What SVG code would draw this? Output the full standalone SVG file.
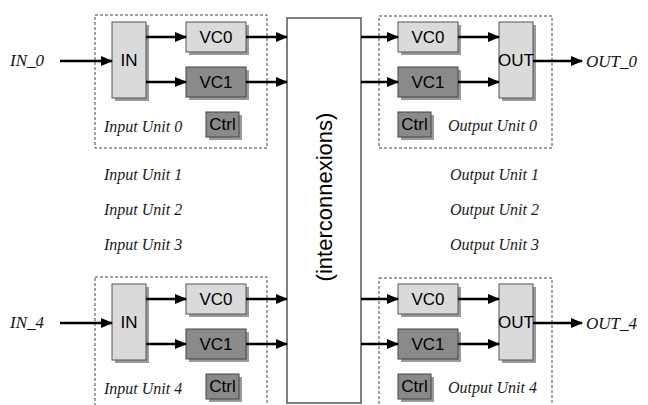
<svg xmlns="http://www.w3.org/2000/svg" width="648" height="405" viewBox="0 0 648 405">
<style>
.unit{fill:none;stroke:#444;stroke-width:1;stroke-dasharray:3,2}
.sh{fill:#9a9a9a}
.lt{fill:#dadada;stroke:#555;stroke-width:1}
.dk{fill:#8a8a8a;stroke:#444;stroke-width:1}
.bt{font-family:"Liberation Sans",Arial,sans-serif;font-size:17px;fill:#000;text-anchor:middle}
.lab{font-family:"Liberation Serif","Times New Roman",serif;font-style:italic;font-size:16px;fill:#1a1a1a}
.io{font-family:"Liberation Serif","Times New Roman",serif;font-style:italic;font-size:17px;fill:#111}
.ar{stroke:#000;stroke-width:2.5;fill:none;marker-end:url(#ah)}
</style>
<defs>
<marker id="ah" markerUnits="userSpaceOnUse" markerWidth="12" markerHeight="10" refX="11" refY="5" orient="auto">
<path d="M0,0 L12,5 L0,10 Z" fill="#000"/>
</marker>
</defs>
<rect width="648" height="405" fill="#fff"/>

<g id="inter">
<rect x="287" y="18" width="74" height="385" fill="#fff" stroke="#555" stroke-width="1.5"/>
<text class="bt" style="font-size:22px" transform="translate(332,197) rotate(-90)">(interconnexions)</text>
</g>

<g id="input0">
<rect class="unit" x="95" y="15" width="172" height="133"/>
<rect class="sh" x="115" y="25" width="34" height="76"/>
<rect class="lt" x="112" y="22" width="34" height="76"/>
<text class="bt" x="129" y="66">IN</text>
<rect class="sh" x="189" y="25" width="60" height="30"/>
<rect class="lt" x="186" y="22" width="60" height="30"/>
<text class="bt" x="216" y="43">VC0</text>
<rect class="sh" x="189" y="70" width="60" height="30"/>
<rect class="dk" x="186" y="67" width="60" height="30"/>
<text class="bt" x="216" y="88">VC1</text>
<rect class="sh" x="209" y="115" width="33" height="25"/>
<rect class="dk" x="206" y="112" width="33" height="25"/>
<text class="bt" x="222.5" y="130">Ctrl</text>
<text class="lab" x="104" y="132">Input Unit 0</text>
</g>

<g id="input4">
<rect class="unit" x="95" y="277" width="172" height="140"/>
<rect class="sh" x="115" y="287" width="34" height="76"/>
<rect class="lt" x="112" y="284" width="34" height="76"/>
<text class="bt" x="129" y="328">IN</text>
<rect class="sh" x="189" y="287" width="60" height="30"/>
<rect class="lt" x="186" y="284" width="60" height="30"/>
<text class="bt" x="216" y="305">VC0</text>
<rect class="sh" x="189" y="332" width="60" height="30"/>
<rect class="dk" x="186" y="329" width="60" height="30"/>
<text class="bt" x="216" y="350">VC1</text>
<rect class="sh" x="209" y="377" width="33" height="25"/>
<rect class="dk" x="206" y="374" width="33" height="25"/>
<text class="bt" x="222.5" y="392">Ctrl</text>
<text class="lab" x="104" y="394">Input Unit 4</text>
</g>

<g id="output0">
<rect class="unit" x="379" y="16" width="173" height="132"/>
<rect class="sh" x="401" y="25" width="60" height="30"/>
<rect class="lt" x="398" y="22" width="60" height="30"/>
<text class="bt" x="428" y="43">VC0</text>
<rect class="sh" x="401" y="70" width="60" height="30"/>
<rect class="dk" x="398" y="67" width="60" height="30"/>
<text class="bt" x="428" y="88">VC1</text>
<rect class="sh" x="502" y="25" width="34" height="76"/>
<rect class="lt" x="499" y="22" width="34" height="76"/>
<text class="bt" x="516" y="66">OUT</text>
<rect class="sh" x="401" y="115" width="33" height="25"/>
<rect class="dk" x="398" y="112" width="33" height="25"/>
<text class="bt" x="414.5" y="130">Ctrl</text>
<text class="lab" x="448" y="131">Output Unit 0</text>
</g>

<g id="output4">
<rect class="unit" x="379" y="278" width="173" height="140"/>
<rect class="sh" x="401" y="287" width="60" height="30"/>
<rect class="lt" x="398" y="284" width="60" height="30"/>
<text class="bt" x="428" y="305">VC0</text>
<rect class="sh" x="401" y="332" width="60" height="30"/>
<rect class="dk" x="398" y="329" width="60" height="30"/>
<text class="bt" x="428" y="350">VC1</text>
<rect class="sh" x="502" y="287" width="34" height="76"/>
<rect class="lt" x="499" y="284" width="34" height="76"/>
<text class="bt" x="516" y="328">OUT</text>
<rect class="sh" x="401" y="377" width="33" height="25"/>
<rect class="dk" x="398" y="374" width="33" height="25"/>
<text class="bt" x="414.5" y="392">Ctrl</text>
<text class="lab" x="448" y="393">Output Unit 4</text>
</g>

<g id="others">
<text class="lab" x="104" y="180">Input Unit 1</text>
<text class="lab" x="104" y="215">Input Unit 2</text>
<text class="lab" x="104" y="250">Input Unit 3</text>
<text class="lab" x="450" y="180">Output Unit 1</text>
<text class="lab" x="450" y="215">Output Unit 2</text>
<text class="lab" x="450" y="250">Output Unit 3</text>
</g>

<g id="io">
<text class="io" x="10" y="66">IN_0</text>
<text class="io" x="10" y="328">IN_4</text>
<text class="io" x="586" y="67">OUT_0</text>
<text class="io" x="586" y="329">OUT_4</text>
</g>

<g id="connectors">
<line class="ar" x1="60" y1="61" x2="112" y2="61"/>
<line class="ar" x1="146" y1="37" x2="186" y2="37"/>
<line class="ar" x1="146" y1="82" x2="186" y2="82"/>
<line class="ar" x1="246" y1="37" x2="287" y2="37"/>
<line class="ar" x1="246" y1="82" x2="287" y2="82"/>
<line class="ar" x1="361" y1="37" x2="398" y2="37"/>
<line class="ar" x1="361" y1="82" x2="398" y2="82"/>
<line class="ar" x1="458" y1="37" x2="499" y2="37"/>
<line class="ar" x1="458" y1="82" x2="499" y2="82"/>
<line class="ar" x1="533" y1="61" x2="582" y2="61"/>
<line class="ar" x1="60" y1="323" x2="112" y2="323"/>
<line class="ar" x1="146" y1="299" x2="186" y2="299"/>
<line class="ar" x1="146" y1="344" x2="186" y2="344"/>
<line class="ar" x1="246" y1="299" x2="287" y2="299"/>
<line class="ar" x1="246" y1="344" x2="287" y2="344"/>
<line class="ar" x1="361" y1="299" x2="398" y2="299"/>
<line class="ar" x1="361" y1="344" x2="398" y2="344"/>
<line class="ar" x1="458" y1="299" x2="499" y2="299"/>
<line class="ar" x1="458" y1="344" x2="499" y2="344"/>
<line class="ar" x1="533" y1="323" x2="582" y2="323"/>
</g>
</svg>
